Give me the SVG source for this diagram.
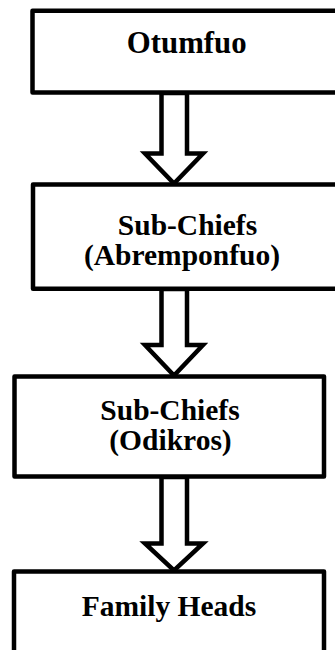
<svg xmlns="http://www.w3.org/2000/svg" width="335" height="650" viewBox="0 0 335 650">
<style>
.box{fill:#fff;stroke:#000;stroke-width:4.5;stroke-linejoin:round}
.arr{fill:#fff;stroke:#000;stroke-width:4.5;stroke-linejoin:miter}
text{font-family:"Liberation Serif","Times New Roman",serif;font-weight:bold;font-size:29.5px;fill:#000;text-anchor:middle}
</style>
<rect width="335" height="650" fill="#fff"/>
<g id="connectors">
<polygon class="arr" points="161.5,93 161.5,153.5 145,153.5 174,183.5 203,153.5 187,153.5 187,93"/>
<polygon class="arr" points="161.5,289 161.5,345 145,345 174,375.5 203,345 187,345 187,289"/>
<polygon class="arr" points="161.5,477 161.5,543.5 145,543.5 174,570.5 203,543.5 187,543.5 187,477"/>
</g>
<g id="node-otumfuo">
<rect class="box" x="32.5" y="10.8" width="310" height="81.7"/>
<text x="186.7" y="53.3" style="font-size:30.8px">Otumfuo</text>
</g>
<g id="node-abremponfuo">
<rect class="box" x="33" y="184.5" width="310" height="104.2"/>
<text x="187.5" y="235">Sub-Chiefs</text>
<text x="182" y="264.5">(Abremponfuo)</text>
</g>
<g id="node-odikros">
<rect class="box" x="14.5" y="376.5" width="309.5" height="100"/>
<text x="170" y="420">Sub-Chiefs</text>
<text x="170.5" y="450">(Odikros)</text>
</g>
<g id="node-family-heads">
<rect class="box" x="14" y="571.5" width="310" height="100"/>
<text x="169" y="616">Family Heads</text>
</g>
</svg>
